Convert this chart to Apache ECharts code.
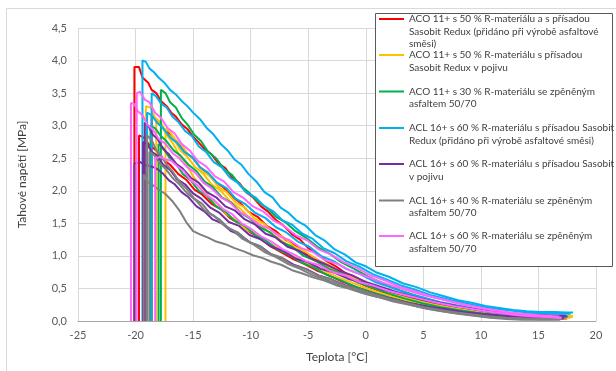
<!DOCTYPE html>
<html><head><meta charset="utf-8">
<script src="https://cdn.jsdelivr.net/npm/echarts@6/dist/echarts.min.js"></script>
<style>html,body{margin:0;padding:0;background:#fff}#c{width:616px;height:371px}</style>
</head><body><div id="c"></div><script>
// ---- DATA ----
const seriesNames = [
  'ACO 11+ s 50 % R-materiálu a s přísadou Sasobit Redux (přidáno při výrobě asfaltové směsi)',
  'ACO 11+ s 50 % R-materiálu s přísadou Sasobit Redux v pojivu',
  'ACO 11+ s 30 % R-materiálu se zpěněným asfaltem 50/70',
  'ACL 16+ s 60 % R-materiálu s přísadou Sasobit Redux (přidáno při výrobě asfaltové směsi)',
  'ACL 16+ s 60 % R-materiálu s přísadou Sasobit v pojivu',
  'ACL 16+ s 40 % R-materiálu se zpěněným asfaltem 50/70',
  'ACL 16+ s 60 % R-materiálu se zpěněným asfaltem 50/70'
];
const legendLabels = [
  'ACO 11+ s 50 % R-materiálu a s přísadou\nSasobit Redux (přidáno při výrobě asfaltové\nsměsi)',
  'ACO 11+ s 50 % R-materiálu s přísadou\nSasobit Redux v pojivu',
  'ACO 11+ s 30 % R-materiálu se zpěněným\nasfaltem 50/70',
  'ACL 16+ s 60 % R-materiálu s přísadou Sasobit\nRedux (přidáno při výrobě asfaltové směsi)',
  'ACL 16+ s 60 % R-materiálu s přísadou Sasobit\nv pojivu',
  'ACL 16+ s 40 % R-materiálu se zpěněným\nasfaltem 50/70',
  'ACL 16+ s 60 % R-materiálu se zpěněným\nasfaltem 50/70'
];
const xTicks = [-25, -20, -15, -10, -5, 0, 5, 10, 15, 20];
const yTicks = [0, 0.5, 1, 1.5, 2, 2.5, 3, 3.5, 4, 4.5];

const red1 = [[-20.1,0],[-20.1,3.9],[-19.7,3.9],[-19.4,3.74],[-18.9,3.66],[-18.6,3.55],[-18.2,3.5],[-17.8,3.38],[-17.3,3.3],[-16.9,3.2],[-16.5,3.14],[-16.0,3.02],[-15.5,2.95],[-15.0,2.83],[-14.5,2.74],[-14.0,2.64],[-13.4,2.56],[-12.8,2.42],[-12.2,2.35],[-11.6,2.2],[-11.0,2.12],[-10.4,1.98],[-9.8,1.9],[-9.1,1.76],[-8.5,1.68],[-7.8,1.55],[-7.1,1.46],[-6.4,1.33],[-5.7,1.25],[-5.0,1.12],[-4.2,1.03],[-3.4,0.92],[-2.6,0.84],[-1.8,0.74],[-1.0,0.68],[0,0.58],[1,0.51],[2,0.45],[3,0.39],[4,0.34],[5,0.29],[6,0.26],[7,0.22],[8,0.19],[9,0.16],[10,0.14],[11.5,0.11],[13,0.09],[14.5,0.07],[16,0.06],[17.2,0.05]];
const red2 = [[-18.6,0],[-18.6,3.15],[-18.2,3.1],[-17.7,2.98],[-17.2,2.9],[-16.7,2.78],[-16.2,2.72],[-15.6,2.58],[-15.0,2.5],[-14.4,2.36],[-13.8,2.28],[-13.1,2.14],[-12.4,2.06],[-11.7,1.92],[-11.0,1.83],[-10.2,1.68],[-9.4,1.6],[-8.6,1.46],[-7.8,1.38],[-7.0,1.25],[-6.1,1.16],[-5.2,1.04],[-4.3,0.95],[-3.3,0.84],[-2.3,0.74],[-1.2,0.64],[0,0.54],[1.5,0.44],[3,0.36],[4.5,0.29],[6,0.23],[7.5,0.18],[9,0.14],[10.5,0.11],[12,0.08],[13.5,0.06],[15,0.05],[16.5,0.04],[17.5,0.04]];
const red3 = [[-19.7,0],[-19.7,2.85],[-19.3,2.82],[-18.8,2.7],[-18.2,2.62],[-17.6,2.48],[-17.0,2.4],[-16.3,2.26],[-15.6,2.17],[-14.9,2.02],[-14.2,1.94],[-13.4,1.8],[-12.6,1.72],[-11.8,1.58],[-11.0,1.5],[-10.1,1.37],[-9.2,1.28],[-8.3,1.15],[-7.4,1.06],[-6.4,0.96],[-5.4,0.88],[-4.3,0.78],[-3.2,0.7],[-2,0.6],[-0.8,0.52],[0.5,0.44],[2,0.36],[3.5,0.29],[5,0.24],[6.5,0.19],[8,0.15],[9.5,0.12],[11,0.09],[12.5,0.07],[14,0.05],[15.5,0.04],[17,0.03]];

const yellow1 = [[-17.4,0],[-17.4,2.95],[-17.0,2.9],[-16.5,2.78],[-16.0,2.7],[-15.4,2.55],[-14.8,2.46],[-14.2,2.3],[-13.5,2.22],[-12.8,2.06],[-12.1,1.98],[-11.3,1.82],[-10.5,1.74],[-9.7,1.58],[-8.9,1.5],[-8.0,1.36],[-7.1,1.28],[-6.2,1.14],[-5.2,1.06],[-4.2,0.94],[-3.2,0.86],[-2.1,0.74],[-1.0,0.66],[0.2,0.56],[1.5,0.48],[3,0.39],[4.5,0.32],[6,0.26],[7.5,0.21],[9,0.17],[10.5,0.13],[12,0.1],[13.5,0.08],[15,0.07],[16.5,0.07],[18,0.06]];
const yellow2 = [[-19.1,0],[-19.1,3.3],[-18.7,3.28],[-18.3,3.12],[-17.8,3.05],[-17.3,2.88],[-16.7,2.8],[-16.1,2.62],[-15.5,2.52],[-14.8,2.36],[-14.1,2.26],[-13.4,2.1],[-12.6,2.0],[-11.8,1.84],[-11.0,1.74],[-10.2,1.6],[-9.3,1.5],[-8.4,1.36],[-7.5,1.26],[-6.5,1.14],[-5.5,1.04],[-4.4,0.92],[-3.3,0.83],[-2.1,0.72],[-0.9,0.63],[0.4,0.53],[1.8,0.45],[3.3,0.37],[4.8,0.3],[6.3,0.24],[7.8,0.19],[9.3,0.15],[10.8,0.12],[12.3,0.09],[13.8,0.08],[15.3,0.07],[16.8,0.06],[18,0.08]];
const yellow3 = [[-18.2,0],[-18.2,3.1],[-17.8,3.02],[-17.3,2.86],[-16.8,2.74],[-16.2,2.55],[-15.6,2.42],[-15.0,2.22],[-14.3,2.08],[-13.6,1.9],[-12.9,1.8],[-12.1,1.64],[-11.3,1.55],[-10.5,1.42],[-9.6,1.34],[-8.7,1.22],[-7.8,1.14],[-6.8,1.03],[-5.8,0.95],[-4.7,0.85],[-3.6,0.77],[-2.4,0.67],[-1.2,0.59],[0.1,0.5],[1.5,0.42],[3,0.34],[4.5,0.28],[6,0.22],[7.5,0.18],[9,0.14],[10.5,0.11],[12,0.08],[13.5,0.06],[15,0.05],[16.5,0.05],[17.8,0.05]];

const green1 = [[-17.8,0],[-17.8,3.55],[-17.4,3.5],[-17.0,3.36],[-16.5,3.28],[-16.0,3.12],[-15.5,3.02],[-14.9,2.86],[-14.3,2.76],[-13.7,2.6],[-13.0,2.5],[-12.3,2.33],[-11.6,2.24],[-10.9,2.08],[-10.2,1.98],[-9.4,1.84],[-8.6,1.74],[-7.8,1.6],[-7.0,1.52],[-6.1,1.38],[-5.2,1.28],[-4.2,1.14],[-3.2,1.04],[-2.1,0.9],[-1.0,0.8],[0.2,0.68],[1.5,0.58],[3,0.47],[4.5,0.38],[6,0.3],[7.5,0.24],[9,0.19],[10.5,0.15],[12,0.11],[13.5,0.08],[15,0.06],[16.5,0.05],[17.3,0.05]];
const green2 = [[-18.7,0],[-18.7,3.0],[-18.3,2.96],[-17.8,2.84],[-17.3,2.76],[-16.7,2.62],[-16.1,2.54],[-15.4,2.4],[-14.7,2.3],[-14.0,2.14],[-13.3,2.06],[-12.5,1.9],[-11.7,1.82],[-10.9,1.66],[-10.1,1.58],[-9.2,1.44],[-8.3,1.36],[-7.4,1.22],[-6.4,1.14],[-5.4,1.0],[-4.3,0.92],[-3.2,0.8],[-2.0,0.72],[-0.8,0.6],[0.5,0.52],[2,0.42],[3.5,0.34],[5,0.27],[6.5,0.21],[8,0.17],[9.5,0.13],[11,0.1],[12.5,0.07],[14,0.05],[15.5,0.04],[17,0.03]];
const green3 = [[-18.0,0],[-18.0,2.72],[-17.6,2.66],[-17.1,2.52],[-16.5,2.42],[-15.9,2.26],[-15.2,2.16],[-14.5,2.0],[-13.8,1.92],[-13.0,1.76],[-12.2,1.68],[-11.4,1.54],[-10.5,1.46],[-9.6,1.32],[-8.7,1.24],[-7.7,1.1],[-6.7,1.02],[-5.6,0.9],[-4.5,0.82],[-3.3,0.7],[-2.1,0.62],[-0.8,0.52],[0.6,0.44],[2,0.36],[3.5,0.29],[5,0.23],[6.5,0.18],[8,0.14],[9.5,0.11],[11,0.08],[12.5,0.06],[14,0.04],[15.5,0.03],[16.8,0.03]];

const blue1 = [[-19.4,0],[-19.4,4.0],[-19.1,3.98],[-18.8,3.88],[-18.4,3.82],[-18.0,3.74],[-17.5,3.66],[-17.0,3.55],[-16.5,3.48],[-16.0,3.38],[-15.5,3.3],[-15.0,3.2],[-14.4,3.1],[-13.8,2.96],[-13.2,2.86],[-12.6,2.72],[-12.0,2.62],[-11.4,2.48],[-10.8,2.4],[-10.2,2.26],[-9.5,2.14],[-8.8,1.98],[-8.1,1.9],[-7.4,1.74],[-6.7,1.66],[-6.0,1.54],[-5.2,1.46],[-4.4,1.32],[-3.6,1.24],[-2.7,1.1],[-1.8,1.02],[-0.9,0.9],[0,0.84],[1,0.74],[2,0.68],[3.2,0.58],[4.4,0.52],[5.6,0.44],[6.8,0.38],[8,0.32],[9.2,0.28],[10.4,0.23],[11.6,0.2],[12.8,0.17],[14,0.15],[15.2,0.14],[16.4,0.14],[17.4,0.13],[18,0.13]];
const blue2 = [[-18.6,0],[-18.6,3.5],[-18.2,3.45],[-17.8,3.34],[-17.3,3.28],[-16.8,3.14],[-16.3,3.06],[-15.7,2.92],[-15.1,2.84],[-14.5,2.68],[-13.9,2.6],[-13.2,2.44],[-12.5,2.36],[-11.8,2.2],[-11.1,2.12],[-10.4,1.98],[-9.6,1.9],[-8.8,1.76],[-8.0,1.68],[-7.2,1.54],[-6.4,1.48],[-5.5,1.34],[-4.6,1.26],[-3.7,1.12],[-2.7,1.04],[-1.7,0.92],[-0.6,0.84],[0.6,0.72],[1.8,0.64],[3,0.55],[4.3,0.48],[5.6,0.4],[7,0.34],[8.4,0.28],[9.8,0.23],[11.2,0.19],[12.6,0.16],[14,0.13],[15.4,0.12],[16.8,0.11],[17.8,0.11]];
const blue3 = [[-19.0,0],[-19.0,3.2],[-18.6,3.16],[-18.1,3.04],[-17.6,2.96],[-17.0,2.82],[-16.4,2.74],[-15.8,2.6],[-15.1,2.52],[-14.4,2.36],[-13.7,2.28],[-12.9,2.12],[-12.1,2.04],[-11.3,1.88],[-10.5,1.8],[-9.6,1.66],[-8.7,1.58],[-7.8,1.44],[-6.9,1.36],[-5.9,1.22],[-4.9,1.14],[-3.9,1.0],[-2.8,0.92],[-1.7,0.8],[-0.5,0.72],[0.8,0.6],[2.1,0.52],[3.5,0.43],[5,0.36],[6.5,0.29],[8,0.24],[9.5,0.19],[11,0.15],[12.5,0.12],[14,0.1],[15.5,0.08],[17,0.07],[17.6,0.07]];

const purple1 = [[-20.1,0],[-20.1,2.42],[-19.6,2.44],[-19.2,2.4],[-18.8,2.38],[-18.4,2.36],[-18.0,2.32],[-17.6,2.26],[-17.1,2.16],[-16.6,2.1],[-16.0,1.98],[-15.4,1.9],[-14.7,1.76],[-14.0,1.68],[-13.3,1.56],[-12.5,1.5],[-11.7,1.38],[-10.9,1.32],[-10.0,1.2],[-9.1,1.14],[-8.2,1.02],[-7.2,0.96],[-6.2,0.86],[-5.2,0.8],[-4.1,0.7],[-3.0,0.64],[-1.8,0.55],[-0.5,0.48],[1,0.4],[2.5,0.33],[4,0.27],[5.5,0.22],[7,0.18],[8.5,0.14],[10,0.11],[11.5,0.09],[13,0.07],[14.5,0.05],[16,0.04],[17.2,0.04]];
const purple2 = [[-19.2,0],[-19.2,3.05],[-18.9,3.0],[-18.5,2.86],[-18.1,2.8],[-17.6,2.64],[-17.1,2.56],[-16.5,2.42],[-15.9,2.34],[-15.2,2.2],[-14.5,2.12],[-13.8,1.98],[-13.0,1.9],[-12.2,1.76],[-11.4,1.7],[-10.5,1.56],[-9.6,1.48],[-8.7,1.34],[-7.8,1.28],[-6.8,1.14],[-5.8,1.08],[-4.7,0.96],[-3.6,0.88],[-2.4,0.78],[-1.2,0.7],[0,0.6],[1.4,0.52],[2.8,0.44],[4.2,0.37],[5.6,0.31],[7,0.26],[8.4,0.21],[9.8,0.17],[11.2,0.14],[12.6,0.12],[14,0.1],[15.4,0.09],[16.8,0.08],[17.4,0.08]];
const purple3 = [[-19.35,0],[-19.35,2.75],[-19.0,2.72],[-18.6,2.6],[-18.1,2.54],[-17.6,2.4],[-17.0,2.32],[-16.4,2.18],[-15.7,2.1],[-15.0,1.96],[-14.3,1.88],[-13.5,1.74],[-12.7,1.66],[-11.9,1.52],[-11.0,1.46],[-10.1,1.32],[-9.2,1.26],[-8.2,1.14],[-7.2,1.08],[-6.1,0.96],[-5.0,0.9],[-3.9,0.8],[-2.7,0.74],[-1.4,0.64],[0,0.58],[1.5,0.48],[3,0.41],[4.5,0.34],[6,0.28],[7.5,0.23],[9,0.19],[10.5,0.15],[12,0.12],[13.5,0.1],[15,0.08],[16.5,0.07],[17.5,0.07]];

const gray1 = [[-19.3,0],[-19.3,2.25],[-19.0,2.14],[-18.6,2.1],[-18.0,2.02],[-17.4,1.95],[-16.8,1.84],[-16.2,1.7],[-15.6,1.52],[-15.0,1.38],[-14.4,1.33],[-13.7,1.28],[-13.0,1.22],[-12.2,1.18],[-11.4,1.12],[-10.6,1.07],[-9.8,1.01],[-9.0,0.97],[-8.2,0.91],[-7.3,0.86],[-6.4,0.78],[-5.5,0.73],[-4.6,0.67],[-3.6,0.62],[-2.6,0.55],[-1.5,0.5],[-0.3,0.43],[1,0.37],[2.4,0.3],[3.8,0.25],[5.2,0.19],[6.6,0.15],[8,0.11],[9.4,0.08],[10.8,0.05],[12.2,0.03],[13.6,0.02],[15,0.02],[16.9,0.03]];
const gray2 = [[-19.0,0],[-19.0,2.85],[-18.6,2.78],[-18.2,2.62],[-17.8,2.55],[-17.3,2.4],[-16.8,2.3],[-16.2,2.14],[-15.6,2.04],[-14.9,1.88],[-14.2,1.8],[-13.5,1.64],[-12.7,1.56],[-11.9,1.42],[-11.1,1.36],[-10.2,1.22],[-9.3,1.16],[-8.4,1.04],[-7.4,0.98],[-6.4,0.86],[-5.3,0.8],[-4.2,0.7],[-3.0,0.64],[-1.8,0.54],[-0.5,0.48],[0.9,0.4],[2.3,0.33],[3.7,0.27],[5.1,0.21],[6.5,0.17],[7.9,0.13],[9.3,0.1],[10.7,0.07],[12.1,0.05],[13.5,0.04],[14.9,0.03],[16.3,0.03],[17,0.03]];
const gray3 = [[-18.8,0],[-18.8,2.6],[-18.4,2.55],[-17.9,2.42],[-17.4,2.34],[-16.8,2.2],[-16.2,2.1],[-15.5,1.96],[-14.8,1.86],[-14.0,1.7],[-13.2,1.62],[-12.4,1.48],[-11.6,1.4],[-10.7,1.26],[-9.8,1.18],[-8.8,1.06],[-7.8,0.98],[-6.8,0.88],[-5.7,0.8],[-4.6,0.7],[-3.4,0.63],[-2.2,0.55],[-1,0.48],[0.4,0.4],[1.8,0.34],[3.2,0.28],[4.6,0.22],[6,0.17],[7.4,0.13],[8.8,0.1],[10.2,0.07],[11.6,0.05],[13,0.04],[14.4,0.03],[15.8,0.02],[16.9,0.02]];

const pink1 = [[-20.4,0],[-20.4,3.35],[-20.1,3.33],[-19.8,3.22],[-19.4,3.16],[-19.0,3.02],[-18.5,2.94],[-18.0,2.8],[-17.4,2.72],[-16.8,2.58],[-16.2,2.5],[-15.5,2.36],[-14.8,2.28],[-14.1,2.12],[-13.4,2.04],[-12.6,1.9],[-11.8,1.82],[-11.0,1.68],[-10.2,1.6],[-9.3,1.48],[-8.4,1.42],[-7.5,1.3],[-6.6,1.24],[-5.6,1.12],[-4.6,1.06],[-3.6,0.94],[-2.5,0.88],[-1.4,0.78],[-0.2,0.7],[1,0.62],[2.3,0.54],[3.6,0.47],[5,0.4],[6.4,0.34],[7.8,0.28],[9.2,0.23],[10.6,0.18],[12,0.14],[13.4,0.11],[14.8,0.08],[16,0.06],[17,0.05]];
const pink2 = [[-19.9,0],[-19.9,3.5],[-19.6,3.52],[-19.2,3.4],[-18.8,3.36],[-18.3,3.2],[-17.8,3.12],[-17.2,2.96],[-16.6,2.88],[-16.0,2.72],[-15.3,2.62],[-14.6,2.46],[-13.9,2.38],[-13.1,2.22],[-12.3,2.14],[-11.5,1.98],[-10.7,1.9],[-9.8,1.76],[-8.9,1.68],[-8.0,1.54],[-7.1,1.46],[-6.1,1.32],[-5.1,1.24],[-4.1,1.1],[-3.0,1.02],[-1.9,0.9],[-0.8,0.82],[0.4,0.7],[1.7,0.62],[3,0.52],[4.4,0.45],[5.8,0.37],[7.2,0.31],[8.6,0.25],[10,0.2],[11.4,0.16],[12.8,0.12],[14.2,0.1],[15.6,0.08],[16.8,0.07]];
const pink3 = [[-18.3,0],[-18.3,2.5],[-17.9,2.52],[-17.4,2.48],[-16.9,2.46],[-16.4,2.38],[-15.8,2.3],[-15.2,2.16],[-14.6,2.08],[-13.9,1.94],[-13.2,1.86],[-12.4,1.72],[-11.6,1.64],[-10.8,1.5],[-10.0,1.42],[-9.1,1.3],[-8.2,1.22],[-7.2,1.1],[-6.2,1.02],[-5.2,0.92],[-4.1,0.86],[-3.0,0.76],[-1.8,0.7],[-0.6,0.6],[0.7,0.54],[2,0.46],[3.4,0.4],[4.8,0.34],[6.2,0.28],[7.6,0.23],[9,0.19],[10.4,0.15],[11.8,0.12],[13.2,0.09],[14.6,0.07],[16,0.06],[17,0.05]];

const groups = [
  [red1, red2, red3],
  [yellow1, yellow2, yellow3],
  [green1, green2, green3],
  [blue1, blue2, blue3],
  [purple1, purple2, purple3],
  [gray1, gray2, gray3],
  [pink1, pink2, pink3]
];

// ---- STYLE ----
const palette = ['#FF0000', '#FFC000', '#00B050', '#00B0F0', '#7030A0', '#808080', '#FF66FF'];
const legendFirstLineY = [19, 55, 91.5, 128, 164, 200.5, 236];
const FONT = 'Lato, "Liberation Sans", sans-serif';
const LH = 12.5;
const H = 371;

const series = [];
groups.forEach((g, gi) => {
  g.forEach(curve => {
    series.push({
      name: seriesNames[gi], type: 'line', data: curve, showSymbol: false, symbol: 'none',
      lineStyle: { width: 2, color: palette[gi] }, itemStyle: { color: palette[gi] },
      silent: true, animation: false, z: 2
    });
  });
});

// legend text is centred on its icon; leading blank lines put the first text line on the icon
const legends = seriesNames.map((n, i) => {
  const lines = legendLabels[i].split('\n').length;
  const shown = '\n'.repeat(lines - 1) + legendLabels[i];
  const total = 2 * lines - 1;
  return {
    data: [n], orient: 'vertical', left: 379,
    bottom: H - (legendFirstLineY[i] + total * LH / 2),
    padding: 0, itemWidth: 25, itemHeight: 2, icon: 'rect', z: 20, selectedMode: false,
    formatter: () => shown,
    textStyle: { fontFamily: FONT, fontSize: 10, lineHeight: LH, color: '#404040' }
  };
});

const chart = echarts.init(document.getElementById('c'), null, { renderer: 'canvas' });
chart.setOption({
  animation: false,
  backgroundColor: '#fff',
  grid: { left: 78, right: 20, top: 28, bottom: 50, containLabel: false },
  xAxis: {
    type: 'value', min: xTicks[0], max: xTicks[xTicks.length - 1], interval: 5,
    name: 'Teplota [°C]', nameLocation: 'middle', nameGap: 30,
    nameTextStyle: { fontFamily: FONT, fontSize: 12, color: '#404040' },
    axisLine: { show: true, onZero: false, lineStyle: { color: '#a6a6a6', width: 1 } },
    axisTick: { show: false },
    axisLabel: { fontFamily: FONT, fontSize: 11, color: '#595959', margin: 9 },
    splitLine: { show: true, lineStyle: { color: '#d9d9d9', width: 1 } }
  },
  yAxis: {
    type: 'value', min: yTicks[0], max: yTicks[yTicks.length - 1], interval: 0.5,
    name: 'Tahové napětí [MPa]', nameLocation: 'middle', nameGap: 50,
    nameTextStyle: { fontFamily: FONT, fontSize: 12, color: '#404040' },
    axisLine: { show: false }, axisTick: { show: false },
    axisLabel: { fontFamily: FONT, fontSize: 11, color: '#595959', margin: 11,
      formatter: v => v.toFixed(1).replace('.', ',') },
    splitLine: { show: true, lineStyle: { color: '#d9d9d9', width: 1 } }
  },
  legend: legends,
  graphic: { elements: [
    { type: 'rect', z: 0, silent: true, shape: { x: 6.5, y: 8.5, width: 700, height: 500 },
      style: { fill: 'none', stroke: '#d9d9d9', lineWidth: 1 } },
    { type: 'rect', z: 10, silent: true, shape: { x: 375.5, y: 13.5, width: 237, height: 253 },
      style: { fill: '#ffffff', stroke: '#595959', lineWidth: 1 } }
  ] },
  series: series
});
</script></body></html>
